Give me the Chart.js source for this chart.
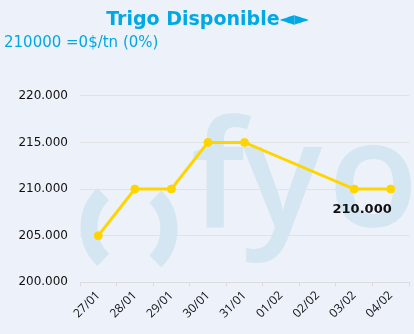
<!DOCTYPE html>
<html>
<head>
<meta charset="utf-8">
<script src="https://cdn.jsdelivr.net/npm/chart.js@4"></script>
<style>
    html, body { margin: 0; padding: 0; background: #edf1fa; }
    #contenedor { width: 414px; height: 334px; }
</style>
</head>
<body>
<div id="contenedor"><canvas id="grafico"></canvas></div>
<script>
const titulo = 'Trigo Disponible\u25C4\u25BA';
const subtitulo = '210000 =0$/tn (0%)';
const fechas = ['27/01', '28/01', '29/01', '30/01', '31/01', '01/02', '02/02', '03/02', '04/02'];
const precios = [205000, 210000, 210000, 215000, 215000, null, null, 210000, 210000];
const ejeY = { min: 200000, max: 220000, paso: 5000 };
const ultimoValor = '210.000';

function formatoMiles(v) {
    return String(v).replace(/\B(?=(\d{3})+(?!\d))/g, '.');
}

// marca de agua "()fyo" detras de la grilla
const marcaAgua = {
    id: 'marcaAgua',
    beforeDraw(chart) {
        const ctx = chart.ctx;
        const a = chart.chartArea;
        ctx.save();
        ctx.fillStyle = '#d4e6f1';
        ctx.strokeStyle = '#d4e6f1';
        ctx.lineWidth = 17;
        ctx.beginPath();
        ctx.arc(a.left + 54, 227, 45, Math.PI - 0.82, Math.PI + 0.82);
        ctx.stroke();
        ctx.beginPath();
        ctx.arc(a.left + 44, 229, 45, -0.8, 0.8);
        ctx.stroke();
        ctx.font = '600 148px "Open Sans"';
        ctx.textBaseline = 'alphabetic';
        const letras = [['f', a.left + 113], ['y', a.left + 163], ['o', a.left + 255]];
        letras.forEach(([l, x]) => {
            const m = ctx.measureText(l);
            ctx.fillText(l, x + m.actualBoundingBoxLeft, 227);
        });
        ctx.restore();
    }
};

const etiquetaFinal = {
    id: 'etiquetaFinal',
    afterDatasetsDraw(chart) {
        const meta = chart.getDatasetMeta(0);
        const p = meta.data[meta.data.length - 1];
        const ctx = chart.ctx;
        ctx.save();
        ctx.font = 'bold 13px "DejaVu Sans"';
        ctx.fillStyle = '#111';
        ctx.textAlign = 'right';
        ctx.textBaseline = 'middle';
        ctx.fillText(ultimoValor, p.x + 1, p.y + 21);
        ctx.restore();
    }
};

new Chart(document.getElementById('grafico'), {
    type: 'line',
    data: {
        labels: fechas,
        datasets: [{
            data: precios,
            borderColor: '#ffd500',
            backgroundColor: '#ffd500',
            borderWidth: 3,
            pointRadius: 4,
            pointBorderWidth: 1,
            pointHoverRadius: 4,
            spanGaps: true,
            tension: 0
        }]
    },
    options: {
        responsive: true,
        maintainAspectRatio: false,
        animation: false,
        layout: { padding: { left: 4, right: 3, bottom: 11 } },
        plugins: {
            legend: { display: false },
            tooltip: { enabled: false },
            title: {
                display: true,
                text: titulo,
                color: '#00a8e4',
                font: { family: 'DejaVu Sans', size: 19, weight: 'bold' },
                padding: { top: 9, bottom: 2 }
            },
            subtitle: {
                display: true,
                text: subtitulo,
                align: 'start',
                color: '#00a8e4',
                font: { family: 'DejaVu Sans', size: 15 },
                padding: { top: 0, bottom: 44 }
            }
        },
        scales: {
            x: {
                offset: true,
                grid: { display: true, drawOnChartArea: false, offset: true, tickLength: 4, color: '#dcdcdc' },
                border: { display: true, color: '#dcdcdc' },
                ticks: {
                    color: '#111',
                    font: { family: 'Open Sans', size: 12 },
                    minRotation: 45,
                    maxRotation: 45,
                    padding: 2
                }
            },
            y: {
                min: ejeY.min,
                max: ejeY.max,
                afterFit: scale => { scale.width = 76; },
                grid: { color: '#e2e2e2', drawTicks: false },
                border: { display: false },
                ticks: {
                    stepSize: ejeY.paso,
                    color: '#111',
                    font: { family: 'DejaVu Sans', size: 12 },
                    padding: 12,
                    callback: v => formatoMiles(v)
                }
            }
        }
    },
    plugins: [marcaAgua, etiquetaFinal]
});
</script>
</body>
</html>
